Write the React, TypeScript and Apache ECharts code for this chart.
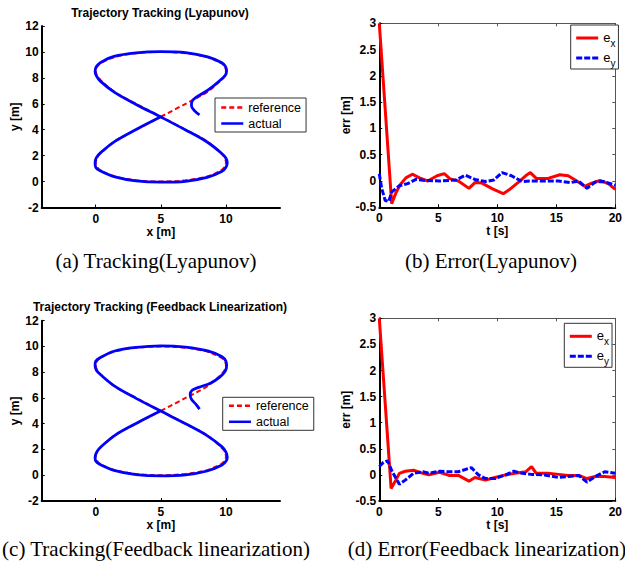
import React, { useEffect, useRef } from "react";
import * as echarts from "echarts";

const SANS = '"Liberation Sans", Arial, Helvetica, sans-serif';
const SERIF = '"Liberation Serif", "Times New Roman", serif';

const plotTitles = ["Trajectory Tracking (Lyapunov)", "Trajectory Tracking (Feedback Linearization)"];
const captions = ["(a) Tracking(Lyapunov)", "(b) Error(Lyapunov)", "(c) Tracking(Feedback linearization)", "(d) Error(Feedback linearization)"];
const xTrajTicks = [0, 5, 10];

// reference figure-eight path [x, y]
const referencePath = [
  [5, 5], [6.9, 6.0], [8.55, 6.9], [9.6, 7.8], [9.9, 8.17], [10, 8.55], [9.9, 8.87], [9.6, 9.15], [8.55, 9.6], [6.9, 9.9], [5, 10],
  [3.1, 9.9], [1.45, 9.6], [0.4, 9.15], [0.1, 8.87], [0, 8.55], [0.1, 8.17], [0.4, 7.8], [1.45, 6.9], [3.1, 6.0], [5, 5],
  [6.9, 4.0], [8.55, 3.1], [9.6, 2.2], [9.9, 1.83], [10, 1.45], [9.9, 1.13], [9.6, 0.85], [8.55, 0.4], [6.9, 0.1], [5, 0],
  [3.1, 0.1], [1.45, 0.4], [0.4, 0.85], [0.1, 1.13], [0, 1.45], [0.1, 1.83], [0.4, 2.2], [1.45, 3.1], [3.1, 4.0], [5, 5],
];

// actual path, Lyapunov controller
const actualLyapunov = [
  [7.97, 5.15], [7.6, 5.45], [7.35, 5.85], [7.4, 6.2], [7.7, 6.5], [8.3, 6.85], [9.0, 7.35], [9.6, 7.85],
  [9.95, 8.2], [10.05, 8.55], [9.95, 8.9], [9.65, 9.18], [8.6, 9.62], [6.9, 9.95], [5, 10.02], [3.1, 9.93],
  [1.4, 9.65], [0.35, 9.17], [0.05, 8.87], [-0.05, 8.5], [0.05, 8.15], [0.35, 7.75], [1.45, 6.88], [3.1, 5.95],
  [5, 4.98], [6.9, 3.98], [8.55, 3.05], [9.7, 2.15], [10.0, 1.8], [10.1, 1.45], [10.0, 1.1], [9.7, 0.8],
  [8.55, 0.32], [6.9, 0.02], [5, -0.05], [3.1, 0.05], [1.4, 0.38], [0.3, 0.85], [0.0, 1.1], [-0.05, 1.45],
  [0.05, 1.85], [0.4, 2.25], [1.5, 3.12], [3.1, 4.02], [5, 5],
];

// actual path, feedback linearization controller
const actualFeedback = [
  [7.97, 5.13], [7.7, 5.5], [7.35, 5.9], [7.25, 6.25], [7.4, 6.6], [7.9, 6.82], [8.8, 7.15], [9.5, 7.6],
  [9.95, 8.1], [10.05, 8.5], [10.0, 8.85], [9.7, 9.2], [8.6, 9.65], [6.9, 9.95], [5, 10.05], [3.1, 9.93],
  [1.4, 9.63], [0.3, 9.1], [0.0, 8.85], [-0.05, 8.55], [0.05, 8.15], [0.4, 7.78], [1.45, 6.92], [3.1, 5.97],
  [5, 4.98], [6.9, 4.0], [8.55, 3.08], [9.7, 2.2], [10.0, 1.8], [10.1, 1.4], [10.0, 1.08], [9.7, 0.8],
  [8.55, 0.33], [6.9, 0.03], [5, -0.05], [3.1, 0.05], [1.4, 0.38], [0.3, 0.85], [0.0, 1.1], [-0.05, 1.4],
  [0.1, 1.85], [0.45, 2.25], [1.5, 3.12], [3.1, 4.02], [5, 5],
];

// error, Lyapunov
const tExLyap = [0, 1.05, 1.4, 1.8, 2.25, 2.8, 3.4, 4.1, 4.9, 5.5, 6.0, 6.7, 7.6, 8.1, 8.7, 9.6, 10.5, 11.1, 11.8, 12.4, 12.8, 13.3, 14.3, 15.3, 16.0, 16.6, 17.4, 18.0, 18.7, 19.4, 20];
const exLyap = [3, -0.43, -0.23, -0.06, 0.06, 0.13, 0.06, 0.0, 0.1, 0.14, 0.04, 0.0, -0.14, -0.03, -0.04, -0.15, -0.24, -0.15, -0.02, 0.1, 0.16, 0.05, 0.05, 0.12, 0.1, 0.02, -0.1, -0.04, 0.01, -0.05, -0.16];
const tEyLyap = [0, 0.2, 0.5, 0.8, 1.05, 1.7, 2.4, 3.1, 3.9, 5.1, 6.5, 7.3, 8.1, 9.0, 9.7, 10.4, 11.2, 12.1, 12.9, 14.0, 15.2, 16.2, 16.9, 17.6, 18.3, 19.0, 20];
const eyLyap = [0.14, -0.14, -0.37, -0.39, -0.21, -0.09, -0.05, 0.03, 0.01, 0.0, 0.02, 0.11, 0.03, -0.01, 0.02, 0.16, 0.1, -0.01, 0.0, 0.0, 0.0, -0.03, 0.0, -0.14, -0.02, -0.01, -0.08];

// error, feedback linearization
const tExFb = [0, 1.0, 1.4, 1.7, 2.2, 2.9, 3.7, 4.2, 5.1, 5.9, 6.7, 7.6, 8.1, 9.0, 9.8, 10.7, 11.5, 12.4, 12.9, 13.3, 14.3, 15.2, 16.0, 16.9, 17.6, 18.3, 19.1, 20];
const exFb = [3, -0.26, -0.1, 0.03, 0.07, 0.09, 0.03, 0.0, 0.05, -0.01, -0.01, -0.12, -0.05, -0.1, -0.05, 0.0, 0.03, 0.06, 0.16, 0.03, 0.03, 0.01, -0.01, -0.01, -0.07, -0.03, -0.03, -0.05];
const tEyFb = [0, 0.35, 0.7, 1.1, 1.7, 2.2, 2.9, 3.7, 4.2, 5.1, 5.9, 6.7, 7.8, 8.4, 9.0, 9.8, 10.7, 11.4, 12.1, 12.9, 14.0, 15.2, 16.0, 16.9, 17.6, 18.3, 19.1, 20];
const eyFb = [0.16, 0.24, 0.27, 0.06, -0.18, -0.1, 0.03, 0.06, 0.03, 0.07, 0.06, 0.06, 0.14, 0.0, -0.07, -0.07, 0.0, 0.07, 0.03, 0.01, 0.0, -0.05, -0.03, -0.01, -0.14, -0.03, 0.06, 0.03];

const zip = (t: number[], v: number[]) => t.map((x, i) => [x, v[i]]);

const RED = "#ff0000";
const BLUE = "#0000ff";

const labelStyle = { color: "#000", fontFamily: SANS, fontWeight: "bold" as const, fontSize: 12 };

function trajX(grid: number, nameGap: number) {
  return {
    type: "value", gridIndex: grid, min: -4.15, max: 14.15,
    axisLine: { show: true, onZero: false, lineStyle: { color: "#000", width: 2 } },
    axisTick: { show: true, inside: true, length: 3, customValues: xTrajTicks, lineStyle: { color: "#000", width: 1 } },
    axisLabel: { ...labelStyle, margin: 5, customValues: xTrajTicks },
    splitLine: { show: false },
    name: "x [m]", nameLocation: "middle", nameGap, nameTextStyle: labelStyle,
  };
}
function trajY(grid: number, nameGap: number) {
  return {
    type: "value", gridIndex: grid, min: -2, max: 12, interval: 2,
    axisLine: { show: true, onZero: false, lineStyle: { color: "#000", width: 2 } },
    axisTick: { show: true, inside: true, length: 3, lineStyle: { color: "#000", width: 1 } },
    axisLabel: { ...labelStyle, margin: 3 },
    splitLine: { show: false },
    name: "y [m]", nameLocation: "middle", nameGap, nameTextStyle: labelStyle,
  };
}
function errX(grid: number, nameGap: number) {
  return {
    type: "value", gridIndex: grid, min: 0, max: 20, interval: 5,
    axisLine: { show: true, onZero: false, lineStyle: { color: "#000", width: 2 } },
    axisTick: { show: true, inside: true, length: 3, lineStyle: { color: "#000", width: 1 } },
    axisLabel: { ...labelStyle, margin: 5 },
    splitLine: { show: false },
    name: "t [s]", nameLocation: "middle", nameGap, nameTextStyle: labelStyle,
  };
}
function errY(grid: number, nameGap: number) {
  return {
    type: "value", gridIndex: grid, min: -0.5, max: 3, interval: 0.5,
    axisLine: { show: true, onZero: false, lineStyle: { color: "#000", width: 2 } },
    axisTick: { show: true, inside: true, length: 3, lineStyle: { color: "#000", width: 1 } },
    axisLabel: { ...labelStyle, margin: 3 },
    splitLine: { show: false },
    name: "err [m]", nameLocation: "middle", nameGap, nameTextStyle: labelStyle,
  };
}
function boxX(grid: number) {
  return {
    type: "value", gridIndex: grid, min: 0, max: 20, interval: 5, position: "top",
    axisLine: { show: true, onZero: false, lineStyle: { color: "#555", width: 1 } },
    axisTick: { show: true, inside: true, length: 3, lineStyle: { color: "#555", width: 1 } },
    axisLabel: { show: false }, splitLine: { show: false },
  };
}
function boxY(grid: number) {
  return {
    type: "value", gridIndex: grid, min: -0.5, max: 3, interval: 0.5, position: "right",
    axisLine: { show: true, onZero: false, lineStyle: { color: "#555", width: 1 } },
    axisTick: { show: true, inside: true, length: 3, lineStyle: { color: "#555", width: 1 } },
    axisLabel: { show: false }, splitLine: { show: false },
  };
}

function lineSeries(name: string, idx: number, data: number[][], color: string, width: number, dash: any, smooth: number | boolean) {
  return {
    type: "line", name, xAxisIndex: idx, yAxisIndex: idx, data,
    symbol: "none", showSymbol: false, smooth,
    itemStyle: { color },
    lineStyle: { color, width, type: dash },
  };
}

const hiddenMarker = { color: "rgba(0,0,0,0)", borderColor: "rgba(0,0,0,0)", borderWidth: 0, opacity: 0 };

const trajLegend = (left: number, top: number, padding: number[]) => ({
  orient: "vertical", left, top, padding, itemGap: 1, itemWidth: 22, itemHeight: 14,
  data: ["reference", "actual"], selectedMode: false,
  borderColor: "#333", borderWidth: 1, backgroundColor: "#fff",
  textStyle: { color: "#000", fontFamily: SANS, fontSize: 12.5, lineHeight: 15 },
  itemStyle: hiddenMarker,
  lineStyle: { width: 2.5 },
});
const errLegend = (left: number, top: number, padding: number[]) => ({
  orient: "vertical", left, top, padding, itemGap: 0, itemWidth: 22, itemHeight: 14,
  data: ["e_x", "e_y"], selectedMode: false,
  borderColor: "#333", borderWidth: 1, backgroundColor: "#fff",
  formatter: (n: string) => (n === "e_x" ? "{e|e}{s|x}" : "{e|e}{s|y}"),
  textStyle: {
    color: "#000", fontFamily: SANS,
    rich: {
      e: { fontSize: 13, lineHeight: 14, padding: [0, 0, 2, 0], color: "#000", fontFamily: SANS },
      s: { fontSize: 10, lineHeight: 11, padding: [10, 0, 0, 0], color: "#000", fontFamily: SANS },
    },
  },
  itemStyle: hiddenMarker,
  lineStyle: { width: 3 },
});

function txt(text: string, x: number, y: number, font: string, size: number, weight: string) {
  return {
    type: "text", x, y, silent: true,
    style: {
      text, fontFamily: font, fontSize: size, fontWeight: weight, fill: "#000",
      align: "center", verticalAlign: "middle", textAlign: "center", textVerticalAlign: "middle",
    },
  };
}

const option = {
  animation: false,
  backgroundColor: "#fff",
  textStyle: { fontFamily: SANS },
  grid: [
    { left: 41.7, top: 26, width: 238.3, height: 181.5 },
    { left: 379.3, top: 23.3, width: 237.4, height: 184 },
    { left: 41.7, top: 320.7, width: 238.3, height: 180.3 },
    { left: 379.3, top: 318.3, width: 237.4, height: 182.7 },
  ],
  xAxis: [trajX(0, 18), errX(1, 18), trajX(2, 16), errX(3, 16), boxX(1), boxX(3)],
  yAxis: [trajY(0, 19), errY(1, 25), trajY(2, 20), errY(3, 23), boxY(1), boxY(3)],
  legend: [
    trajLegend(215, 98, [2, 5, 1, 5]),
    errLegend(570.7, 25, [3, 3, 1, 4]),
    trajLegend(222.7, 397.3, [1, 5, 1, 5]),
    errLegend(564.3, 323.3, [3, 3, 1, 4]),
  ],
  series: [
    lineSeries("reference", 0, referencePath, RED, 2, [5, 3], 0.35),
    lineSeries("actual", 0, actualLyapunov, BLUE, 2.8, "solid", 0.35),
    lineSeries("reference", 2, referencePath, RED, 2, [5, 3], 0.35),
    lineSeries("actual", 2, actualFeedback, BLUE, 2.8, "solid", 0.35),
    lineSeries("e_x", 1, zip(tExLyap, exLyap), RED, 3, "solid", false),
    lineSeries("e_y", 1, zip(tEyLyap, eyLyap), BLUE, 3, [6, 2], false),
    lineSeries("e_x", 3, zip(tExFb, exFb), RED, 3, "solid", false),
    lineSeries("e_y", 3, zip(tEyFb, eyFb), BLUE, 3, [6, 2], false),
  ],
  graphic: [
    txt(plotTitles[0], 160, 13, SANS, 12, "bold"),
    txt(plotTitles[1], 160, 307, SANS, 12, "bold"),
    txt(captions[0], 156, 261, SERIF, 21, "normal"),
    txt(captions[1], 491, 261, SERIF, 21, "normal"),
    txt(captions[2], 156, 549, SERIF, 21, "normal"),
    txt(captions[3], 487, 549, SERIF, 21, "normal"),
  ],
};

export default function App() {
  const ref = useRef<HTMLDivElement>(null);
  useEffect(() => {
    const chart = echarts.init(ref.current!, null, { renderer: "svg" });
    chart.setOption(option as any);
    return () => chart.dispose();
  }, []);
  return (
    <div
      ref={ref}
      style={{ position: "absolute", left: 0, top: 0, width: 625, height: 570, background: "#fff" }}
    />
  );
}
